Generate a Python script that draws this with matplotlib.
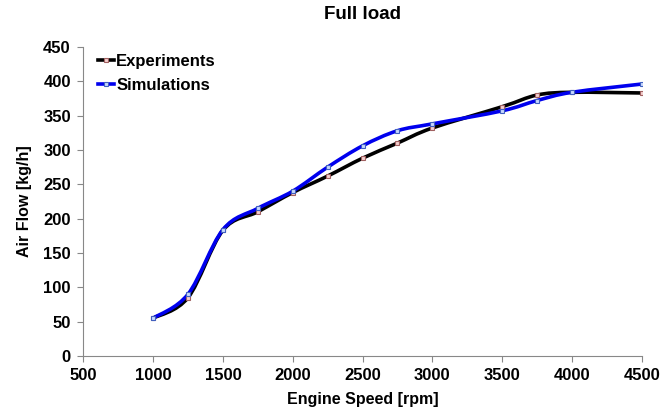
import numpy as np
import matplotlib.pyplot as plt
from matplotlib.path import Path
from matplotlib.patches import PathPatch
from matplotlib.lines import Line2D

plt.rcParams['font.family'] = ['Liberation Sans', 'DejaVu Sans']
plt.rcParams['font.weight'] = 'bold'

# Engine speed [rpm] and air flow [kg/h]
speed = [1000, 1250, 1500, 1750, 2000, 2250, 2500, 2750, 3000, 3500, 3750, 4000, 4500]
experiments = [55, 85, 183, 210, 238, 262, 288, 310, 332, 363, 380, 384, 383]
simulations = [55, 90, 184, 215, 240, 275, 306, 328, 338, 357, 372, 384, 396]


def smooth_path(x, y, tension=0.5):
    # Bezier curve through the points (spreadsheet-style smoothed line)
    x = np.asarray(x, float)
    y = np.asarray(y, float)
    verts = [(x[0], y[0])]
    codes = [Path.MOVETO]
    n = len(x)
    for i in range(n - 1):
        i0 = max(i - 1, 0)
        i3 = min(i + 2, n - 1)
        c1 = (x[i] + (x[i + 1] - x[i0]) * tension / 3,
              y[i] + (y[i + 1] - y[i0]) * tension / 3)
        c2 = (x[i + 1] - (x[i3] - x[i]) * tension / 3,
              y[i + 1] - (y[i3] - y[i]) * tension / 3)
        verts += [c1, c2, (x[i + 1], y[i + 1])]
        codes += [Path.CURVE4] * 3
    return Path(verts, codes)


fig = plt.figure(figsize=(6.72, 4.12), dpi=100)
ax = fig.add_axes([0.124, 0.136, 0.831, 0.750])

series = [
    ('Experiments', experiments, 'black', '#f4d0d0', '#a06060'),
    ('Simulations', simulations, '#0000ee', '#c8d8ff', '#4060c0'),
]
handles = []
for name, vals, color, mface, medge in series:
    ax.add_patch(PathPatch(smooth_path(speed, vals), facecolor='none',
                           edgecolor=color, lw=2.6, capstyle='round'))
    ax.plot(speed, vals, ls='none', marker='s', ms=3.5,
            mfc=mface, mec=medge, mew=0.8)
    handles.append(Line2D([], [], color=color, lw=2.6, marker='s', ms=3.5,
                          mfc=mface, mec=medge, mew=0.8, label=name))

ax.set_xlim(500, 4500)
ax.set_ylim(0, 450)
ax.set_xticks(range(500, 4501, 500))
ax.set_yticks(range(0, 451, 50))
ax.tick_params(labelsize=12, color='#888888', length=4, pad=5)
for lab in ax.get_xticklabels() + ax.get_yticklabels():
    lab.set_fontweight('bold')

for side in ['top', 'right']:
    ax.spines[side].set_visible(False)
for side in ['left', 'bottom']:
    ax.spines[side].set_color('#888888')

ax.set_xlabel('Engine Speed [rpm]', fontsize=11.5, fontweight='bold', labelpad=6)
ax.set_ylabel('Air Flow [kg/h]', fontsize=11.5, fontweight='bold', labelpad=8)
ax.set_title('Full load', fontsize=13.5, fontweight='bold', pad=20)

ax.legend(handles=handles, loc='upper left', frameon=False,
          handlelength=1.0, handletextpad=0.1, borderaxespad=0.3,
          labelspacing=0.55, bbox_to_anchor=(0.005, 1.015),
          prop={'weight': 'bold', 'size': 12})

fig.savefig('out.png', dpi=100)
